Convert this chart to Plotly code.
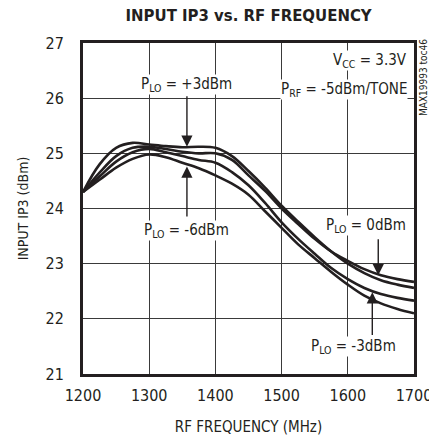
import plotly.graph_objects as go

freq = [1200, 1225, 1250, 1275, 1300, 1325, 1350, 1375, 1400, 1425, 1450, 1475,
        1500, 1525, 1550, 1575, 1600, 1625, 1650, 1675, 1700]
iip3_p3 = [24.3, 24.8, 25.1, 25.19, 25.16, 25.13, 25.11, 25.12, 25.1, 24.95, 24.68, 24.38,
           24.05, 23.76, 23.48, 23.22, 23.0, 22.83, 22.7, 22.62, 22.56]
iip3_0 = [24.3, 24.65, 24.95, 25.1, 25.12, 25.08, 25.03, 25.0, 25.0, 24.88, 24.6, 24.32,
          24.0, 23.72, 23.45, 23.22, 23.05, 22.9, 22.79, 22.72, 22.67]
iip3_m3 = [24.3, 24.58, 24.85, 25.02, 25.08, 25.02, 24.95, 24.88, 24.83, 24.66, 24.42, 24.1,
           23.75, 23.45, 23.18, 22.92, 22.72, 22.56, 22.45, 22.38, 22.33]
iip3_m6 = [24.3, 24.52, 24.74, 24.9, 24.98, 24.93, 24.83, 24.73, 24.6, 24.45, 24.25, 23.95,
           23.65, 23.35, 23.1, 22.85, 22.62, 22.42, 22.28, 22.18, 22.1]

x_ticks = [1200, 1300, 1400, 1500, 1600, 1700]
y_ticks = [21, 22, 23, 24, 25, 26, 27]

FONT = "Liberation Sans Narrow, DejaVu Sans Condensed, Arial Narrow, sans-serif"
INK = "#231f20"

fig = go.Figure()
for ys in (iip3_p3, iip3_0, iip3_m3, iip3_m6):
    fig.add_trace(go.Scatter(x=freq, y=ys, mode="lines",
                             line=dict(color=INK, width=2.6, shape="spline", smoothing=1.0),
                             showlegend=False, hoverinfo="skip"))

anns = []
def label(x, y, text, **kw):
    d = dict(x=x, y=y, xref="x", yref="y", text=text, showarrow=False,
             font=dict(family=FONT, size=15, color=INK), bgcolor="white", borderpad=0)
    d.update(kw)
    anns.append(d)

def arrow(x, y_tail, y_tip):
    anns.append(dict(x=x, y=y_tip, ax=x, ay=y_tail, xref="x", yref="y", axref="x", ayref="y",
                     text="", showarrow=True, arrowhead=2, arrowsize=1.6, arrowwidth=1.4,
                     arrowcolor=INK, standoff=0, startstandoff=0))

label(1357, 26.24, "P<sub>LO</sub> = +3dBm")
arrow(1357, 26.06, 25.12)
label(1357, 23.61, "P<sub>LO</sub> = -6dBm")
arrow(1357, 23.83, 24.76)
label(1628, 23.70, "P<sub>LO</sub> = 0dBm")
arrow(1646, 23.47, 22.79)
label(1608, 21.49, "P<sub>LO</sub> = -3dBm")
arrow(1637, 21.68, 22.48)
label(1691, 26.69, "V<sub>CC</sub> = 3.3V", xanchor="right")
label(1691, 26.15, "P<sub>RF</sub> = -5dBm/TONE", xanchor="right")

pw, ph = 429 - 83 - 15, 436 - 43 - 62
anns.append(dict(x=(423 - 83) / pw, y=(374 - 78) / ph, xref="paper", yref="paper",
                 xanchor="center", yanchor="middle",
                 text="MAX19993 toc46", showarrow=False, textangle=-90,
                 font=dict(family=FONT, size=10, color=INK)))

fig.update_layout(
    width=429, height=436,
    margin=dict(l=83, r=15, t=43, b=62, autoexpand=False),
    paper_bgcolor="white", plot_bgcolor="white",
    title=dict(text="<b>INPUT IP3 vs. RF FREQUENCY</b>", x=0.5795, xanchor="center",
               y=0.965, yanchor="middle",
               font=dict(family=FONT, size=16.6, color=INK)),
    xaxis=dict(range=[1200, 1700], tickvals=x_ticks, ticktext=[str(v) for v in x_ticks],
               showgrid=True, gridcolor="#3a3a3a", gridwidth=1.2, automargin=False,
               showline=True, linecolor=INK, linewidth=3, mirror=True,
               ticks="", ticklabelstandoff=5, zeroline=False, ticklabeloverflow="allow",
               tickfont=dict(family=FONT, size=16, color=INK),
               title=dict(text="RF FREQUENCY (MHz)", standoff=18,
                          font=dict(family=FONT, size=15, color=INK))),
    yaxis=dict(range=[21, 27], tickvals=y_ticks, ticktext=[str(v) for v in y_ticks],
               showgrid=True, gridcolor="#3a3a3a", gridwidth=1.2, automargin=False,
               showline=True, linecolor=INK, linewidth=3, mirror=True,
               ticks="", ticklabelstandoff=13, zeroline=False,
               tickfont=dict(family=FONT, size=16, color=INK),
               title=dict(text="INPUT IP3 (dBm)", standoff=14,
                          font=dict(family=FONT, size=14, color=INK))),
    annotations=anns,
)

fig.write_html("out.html", config={"displayModeBar": False},
               post_script="document.body.style.margin='0';document.body.style.overflow='hidden';")
